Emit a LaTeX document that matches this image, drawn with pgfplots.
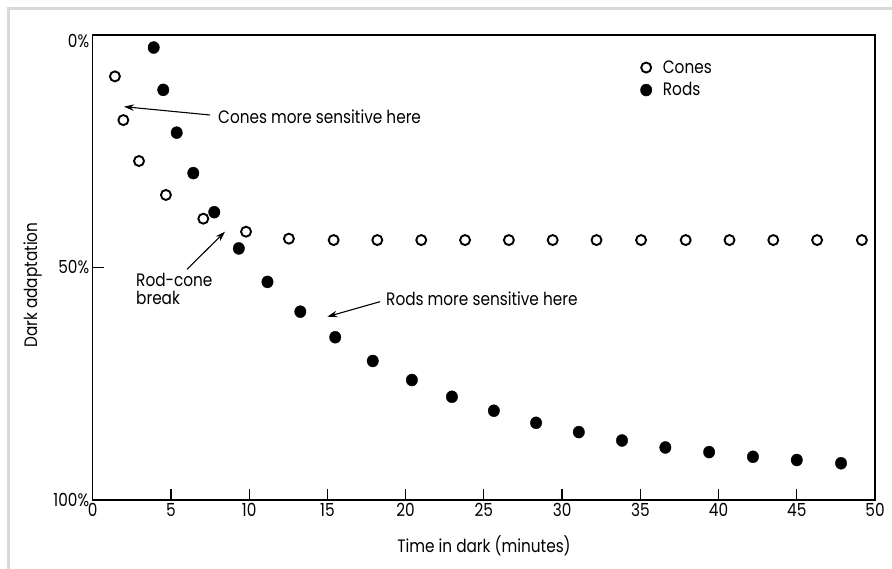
\documentclass[border=0pt]{standalone}
\usepackage{fontspec}
\setmainfont{Poppins}[FakeStretch=0.85]
\usepackage{pgfplots}
\pgfplotsset{compat=1.18}
\usetikzlibrary{arrows.meta}
\definecolor{framegray}{HTML}{D9D9D9}

\pgfplotstableread{
x y
1.42 8.9
1.96 18.3
2.96 27.1
4.68 34.4
7.07 39.5
9.80 42.3
12.54 43.8
15.40 44.1
18.19 44.1
21.00 44.1
23.80 44.1
26.60 44.1
29.40 44.1
32.20 44.1
35.05 44.1
37.90 44.1
40.70 44.1
43.50 44.1
46.30 44.1
49.16 44.1
}\cones

\pgfplotstableread{
x y
3.90 2.7
4.51 11.8
5.37 21.0
6.43 29.7
7.77 38.1
9.34 45.9
11.17 53.1
13.27 59.5
15.50 65.0
17.90 70.1
20.40 74.2
22.96 77.8
25.64 80.8
28.34 83.4
31.07 85.4
33.83 87.2
36.60 88.7
39.40 89.7
42.20 90.7
45.00 91.4
47.83 92.1
}\rods

\begin{document}
\begin{tikzpicture}[x=1pt,y=1pt,font=\fontsize{18}{21}\selectfont]
\path[use as bounding box] (0,0) rectangle (892,569);
\fill[white] (0,0) rectangle (892,569);
\draw[framegray, line width=3pt] (8.5,0) -- (8.5,560.5) -- (892,560.5);
\begin{axis}[
  at={(92.7pt,69pt)}, anchor=south west,
  scale only axis, width=782.3pt, height=465pt,
  xmin=0, xmax=50, ymin=0, ymax=100,
  y dir=reverse,
  xtick={0,5,...,50},
  ytick={0,50,100},
  yticklabels={\raisebox{-13pt}[0pt][0pt]{0\%},50\%,100\%},
  tick align=inside,
  xtick pos=left,
  ytick pos=left,
  xticklabel pos=left,
  major tick length=11pt,
  axis line style={line width=1.3pt},
  tick style={line width=1.2pt, black},
  /pgf/number format/assume math mode=true,
  clip=false,
  legend cell align=left,
  legend image code/.code={\draw[mark repeat=2,mark phase=2,#1] plot coordinates {(0pt,0pt)(7pt,0pt)(14pt,0pt)};},
  legend style={draw=none, fill=none, at={(0.7,0.95)}, anchor=north west, inner sep=0pt, row sep=4pt,
    /tikz/every odd column/.append style={column sep=9pt}},
]
\addplot[only marks, mark=o, mark size=5pt, mark options={line width=1.9pt, fill=white, draw=black}] table[x=x,y=y] {\cones};
\addlegendentry{Cones}
\addplot[only marks, mark=*, mark size=6pt, mark options={fill=black, draw=black, xscale=0.95}] table[x=x,y=y] {\rods};
\addlegendentry{Rods}
\end{axis}
% axis labels
\node[anchor=base] at (484,16) {Time in dark (minutes)};
\node[rotate=90, anchor=base] at (37,284) {Dark adaptation};
% annotations
\node[anchor=base west, inner sep=0pt] at (218,445) {Cones more sensitive here};
\draw[line width=1.1pt, -{Stealth[length=10pt,width=6.5pt]}] (210,454) -- (124,462.3);
\node[anchor=base west, inner sep=0pt] at (136,282.3) {Rod-cone};
\node[anchor=base west, inner sep=0pt] at (136,264) {break};
\draw[line width=1.1pt, -{Stealth[length=10pt,width=6.5pt]}] (187,299.7) -- (225,337.3);
\node[anchor=base west, inner sep=0pt] at (386,263) {Rods more sensitive here};
\draw[line width=1.1pt, -{Stealth[length=10pt,width=6.5pt]}] (380,267.3) -- (327.3,252.3);
\end{tikzpicture}
\end{document}
